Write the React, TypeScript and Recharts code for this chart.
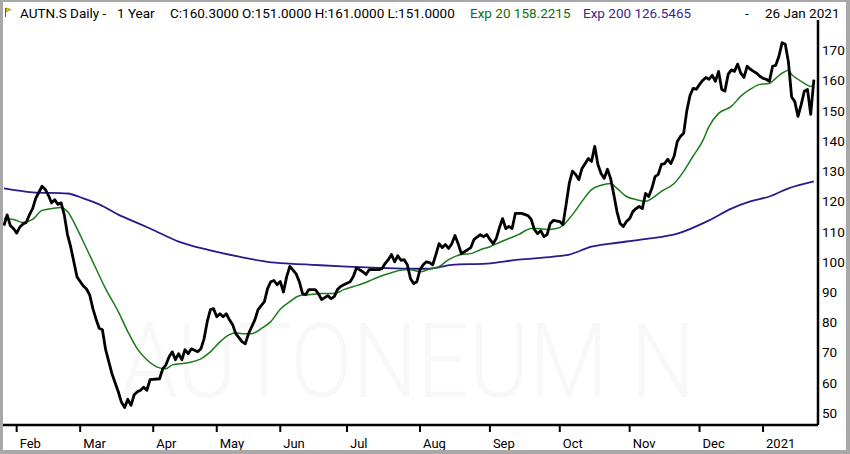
import React from 'react';
import { LineChart, Line, XAxis, YAxis } from 'recharts';

// trading-day index -> month boundary ticks
const monthTicks = [4, 24, 47, 67, 87, 108, 131, 153, 175, 197, 219, 239];
const monthLabels = ['Feb', 'Mar', 'Apr', 'May', 'Jun', 'Jul', 'Aug', 'Sep', 'Oct', 'Nov', 'Dec', '2021'];
const priceTicks = [50, 60, 70, 80, 90, 100, 110, 120, 130, 140, 150, 160, 170];

// [trading day, close]
const closeSeries: [number, number][] = [
  [0, 112], [1, 115.5], [2, 112], [3, 111], [4, 109.5], [5, 111.5], [6, 112.5], [7, 113], [8, 115.5], [9, 117.5],
  [10, 121], [11, 123], [12, 125], [13, 124], [14, 122], [15, 119.5], [16, 120.5], [17, 119], [18, 119.5], [19, 115.5],
  [20, 109], [21, 105], [22, 100], [23, 95], [24, 93.5], [25, 92], [26, 91], [27, 89], [28, 84.5], [29, 81],
  [30, 78], [31, 77.5], [32, 71], [33, 67], [34, 63], [35, 60], [36, 57], [37, 53.5], [38, 51.8], [39, 54.5],
  [40, 52.5], [41, 56], [42, 57], [43, 57.5], [44, 58.5], [45, 57.5], [46, 61], [49, 61.3], [50, 64.6], [51, 65.9],
  [52, 68.6], [53, 70.2], [54, 67.6], [55, 69.6], [56, 67.6], [57, 70.9], [58, 69.6], [59, 71.2], [61, 70.2], [62, 71.2],
  [63, 74.5], [64, 80.2], [65, 84.2], [66, 84.5], [67, 81.8], [68, 82.8], [69, 81.8], [70, 82.8], [71, 80.8], [72, 79.2],
  [73, 76.2], [75, 73.5], [76, 72.9], [77, 76.2], [79, 80.8], [80, 84.2], [82, 86.8], [83, 91.1], [84, 93.4], [85, 93.8],
  [86, 92.4], [87, 93.5], [88, 90], [89, 95], [90, 98.5], [92, 96], [93, 93.4], [94, 89.5], [95, 89.1], [96, 90.8],
  [98, 90.8], [99, 89.5], [100, 87.5], [102, 88.8], [103, 87.8], [104, 88.5], [105, 90.8], [106, 91.8], [107, 92.4], [109, 93.4],
  [110, 95.1], [111, 98], [113, 96.7], [114, 95.8], [115, 97.4], [116, 97.4], [118, 97.4], [119, 97.7], [120, 99.4], [121, 100.7],
  [122, 102.4], [123, 100], [124, 102], [125, 100.5], [126, 100.7], [127, 99], [128, 94.4], [129, 92.8], [130, 93.4], [131, 97.4],
  [132, 99], [133, 100], [134, 99.7], [135, 99], [136, 102.4], [137, 106], [138, 104.7], [139, 105.7], [140, 104.4], [141, 106],
  [142, 108.7], [143, 106], [144, 102.7], [146, 104], [147, 104.7], [148, 107.4], [150, 109], [151, 108.3], [152, 109], [153, 107.4],
  [154, 106], [155, 107.7], [156, 111.3], [157, 114.3], [158, 111], [159, 111.7], [160, 111], [161, 116], [163, 116], [165, 115.3],
  [166, 114], [167, 110.7], [168, 109.3], [169, 110.3], [170, 108.3], [171, 109], [172, 112.7], [173, 113.7], [175, 113.3], [176, 112.3],
  [177, 119], [178, 126], [179, 130], [180, 128.9], [181, 127.2], [182, 130.9], [184, 134.2], [185, 133.2], [186, 138.2], [187, 132.2],
  [188, 129.2], [189, 127.6], [190, 130.6], [191, 127.6], [192, 122.3], [193, 116.6], [194, 112.7], [195, 111.7], [196, 113.3], [197, 114.3],
  [198, 116.6], [199, 117.6], [200, 118.3], [201, 117.6], [202, 122.6], [203, 121.6], [204, 124.3], [205, 128.2], [206, 128.9], [207, 132.2],
  [208, 132.5], [209, 133.9], [210, 132.5], [211, 134.9], [212, 139.8], [213, 141.5], [214, 142.5], [215, 150], [216, 155], [217, 157.4],
  [218, 157.1], [219, 158.7], [220, 160], [221, 161], [222, 160.4], [223, 161.7], [224, 159.7], [225, 163], [226, 157], [227, 156.5],
  [228, 162], [229, 163.5], [230, 163], [231, 165.4], [232, 162.4], [233, 161], [234, 164.7], [235, 163.7], [236, 163], [237, 162.4],
  [238, 161.4], [239, 160.7], [240, 160.4], [241, 159.7], [242, 164.7], [243, 165], [244, 168], [245, 172.5], [246, 172], [247, 166],
  [248, 154.5], [249, 153], [250, 148.1], [251, 152], [252, 156.4], [253, 157], [254, 148.8], [255, 160.3],
];

// [trading day, Exp 20]
const exp20Series: [number, number][] = [
  [0, 114.3], [3, 114], [6, 113], [9, 114], [12, 117], [15, 117.6], [18, 118], [20, 116.6], [23, 111], [26, 104.4],
  [29, 97.7], [32, 91.1], [36, 83.5], [39, 76.9], [42, 71.2], [45, 67.6], [49, 64.9], [51, 64.6], [53, 65.9], [58, 66.6],
  [62, 67.9], [65, 70.2], [68, 73.5], [71, 75.9], [73, 76.5], [75, 76.2], [78, 76.2], [81, 77.9], [84, 80.2], [87, 84.3],
  [90, 86.8], [93, 88.8], [96, 89.1], [100, 89.5], [104, 89.5], [107, 90.8], [110, 91.8], [113, 92.8], [116, 94.1], [119, 95.4],
  [122, 96.4], [126, 97.4], [128, 97.4], [131, 96.7], [134, 97.6], [137, 98.4], [140, 100.7], [144, 102.4], [147, 102.7], [150, 104],
  [153, 105], [156, 106.4], [159, 107.7], [162, 109], [166, 111], [168, 111], [171, 110.7], [174, 111], [176, 112], [178, 114.3],
  [179, 115.6], [182, 120], [185, 123.9], [188, 125.3], [191, 125.9], [193, 124.3], [196, 121.6], [199, 120.6], [202, 120], [204, 121],
  [207, 123.3], [211, 125.9], [214, 129.9], [217, 135], [220, 140], [222, 144.8], [225, 149.1], [229, 151.4], [232, 154.8], [235, 157.1],
  [238, 158.7], [241, 159], [243, 160.7], [245, 162.4], [247, 163.4], [248, 162], [250, 160.4], [252, 159], [254, 158], [255, 158.5],
];

// [trading day, Exp 200]
const exp200Series: [number, number][] = [
  [0, 124.3], [9, 123], [20, 122.6], [25, 121], [30, 119], [36, 115.6], [41, 113.3], [46, 111], [55, 106.7], [64, 104],
  [74, 101.7], [83, 100], [90, 99.4], [97, 99], [108, 98.4], [118, 98], [129, 97.7], [134, 97.7], [141, 99], [152, 99.4],
  [162, 100.7], [173, 101.7], [178, 102.4], [185, 105], [191, 106], [201, 107.4], [212, 109.3], [222, 113.7], [229, 117.6], [235, 120],
  [241, 121.6], [247, 124.3], [255, 126.6],
];

const toRows = (s: [number, number][]) => s.map(([day, value]) => ({ day, value }));

const FONT = 'Roboto, "Noto Sans", sans-serif';

const MonthTick = (props: any) => {
  const { x, y, payload } = props;
  const label = monthLabels[monthTicks.indexOf(payload.value)];
  return (
    <text x={x + 3} y={y + 14} fontSize={13} fontFamily={FONT} fill="#000" textAnchor="start">
      {label}
    </text>
  );
};

const PriceTick = (props: any) => {
  const { y, payload } = props;
  return (
    <text x={822} y={y + 5} fontSize={13.5} fontFamily={FONT} fill="#000" textAnchor="start">
      {payload.value}
    </text>
  );
};

const Header = () => (
  <svg width={850} height={454} style={{ position: 'absolute', left: 0, top: 0 }}>
    <rect x={0} y={0} width={850} height={454} fill="#fff" />
    <text x={408} y={397} fontSize={104} fontFamily={FONT} fontWeight={300} fill="#f8f8f8"
      textAnchor="middle" textLength={575} lengthAdjust="spacingAndGlyphs">
      AUTONEUM N
    </text>
    <line x1={5.5} y1={8} x2={5.5} y2={17} stroke="#555" strokeWidth={1} />
    <path d="M6 8 L11 9.5 L6 12 Z" fill="#e8d800" stroke="#7a6a00" strokeWidth={0.6} />
    <g fontSize={13.5} fontFamily={FONT}>
      <text x={20} y={17.5} fill="#000">AUTN.S Daily -</text>
      <text x={117} y={17.5} fill="#000">1 Year</text>
      <text x={170} y={17.5} fill="#000">C:160.3000 O:151.0000 H:161.0000 L:151.0000</text>
      <text x={470} y={17.5} fill="#0e6e0e">Exp 20 158.2215</text>
      <text x={583} y={17.5} fill="#3c1f90">Exp 200 126.5465</text>
      <text x={745} y={17.5} fill="#000">-</text>
      <text x={765} y={17.5} fill="#000">26 Jan 2021</text>
    </g>
  </svg>
);

export default function App() {
  return (
    <div style={{ position: 'fixed', left: 0, top: 0, width: 850, height: 454, overflow: 'hidden' }}>
      <Header />
      <div style={{ position: 'absolute', left: 0, top: 0 }}>
        <LineChart width={850} height={454} margin={{ top: 20, right: 0, bottom: 0, left: 3 }}>
          <XAxis
            dataKey="day"
            type="number"
            domain={[-0.3, 256.3]}
            ticks={monthTicks}
            allowDataOverflow
            height={29}
            axisLine={{ stroke: '#000', strokeWidth: 2.5 }}
            tickLine={{ stroke: '#000', strokeWidth: 2 }}
            tickSize={7}
            tick={<MonthTick />}
            interval={0}
          />
          <YAxis
            orientation="right"
            type="number"
            domain={[46, 180]}
            ticks={priceTicks}
            allowDataOverflow
            width={32}
            axisLine={{ stroke: '#000', strokeWidth: 2.5 }}
            tickLine={false}
            tick={<PriceTick />}
            interval={0}
          />
          <Line data={toRows(exp200Series)} dataKey="value" type="monotone" stroke="#2c1a8c" strokeWidth={1.8} dot={false} isAnimationActive={false} />
          <Line data={toRows(exp20Series)} dataKey="value" type="monotone" stroke="#1c7a1c" strokeWidth={1.5} dot={false} isAnimationActive={false} />
          <Line data={toRows(closeSeries)} dataKey="value" type="linear" stroke="#000" strokeWidth={2.8} dot={false} isAnimationActive={false} strokeLinejoin="round" />
        </LineChart>
      </div>
      <div style={{
        position: 'absolute', left: 0, top: 0, width: 850, height: 454, boxSizing: 'border-box',
        borderStyle: 'solid', borderColor: '#a8a8a8', borderWidth: '2px 4px 4px 3px', pointerEvents: 'none',
      }} />
    </div>
  );
}
